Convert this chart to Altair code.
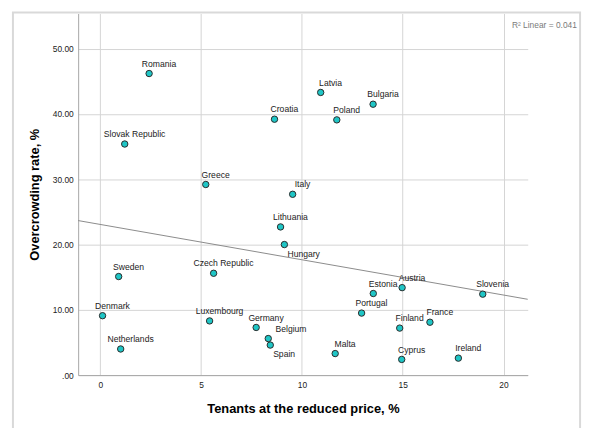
import altair as alt
import pandas as pd

countries = ["Romania", "Slovak Republic", "Croatia", "Greece", "Italy", "Latvia",
             "Bulgaria", "Poland", "Lithuania", "Hungary", "Sweden", "Czech Republic",
             "Denmark", "Netherlands", "Luxembourg", "Germany", "Belgium", "Spain",
             "Estonia", "Austria", "Slovenia", "Portugal", "Finland", "France",
             "Malta", "Cyprus", "Ireland"]
tenants = [2.42, 1.21, 8.64, 5.23, 9.54, 10.93, 13.53, 11.73, 8.94, 9.13, 0.91, 5.62,
           0.11, 1.01, 5.42, 7.73, 8.33, 8.43, 13.54, 14.97, 18.97, 12.96, 14.85, 16.35,
           11.65, 14.95, 17.76]
overcrowding = [46.2, 35.4, 39.2, 29.2, 27.7, 43.3, 41.5, 39.1, 22.7, 20.0, 15.1, 15.6,
                9.1, 4.0, 8.3, 7.3, 5.6, 4.6, 12.5, 13.4, 12.4, 9.5, 7.2, 8.1,
                3.3, 2.4, 2.6]
y_ticks = [0, 10, 20, 30, 40, 50]
x_ticks = [0, 5, 10, 15, 20]
r2_text = "R\u00b2 Linear = 0.041"

df = pd.DataFrame({"country": countries, "x": tenants, "y": overcrowding})

FONT = "Liberation Sans"
W, H = 455, 366

xs = alt.Scale(domain=[-1.1, 21.2], nice=False, zero=False)
ys = alt.Scale(domain=[0, 55.4], nice=False, zero=False)

base = alt.Chart(df)

x_enc = alt.X("x:Q", scale=xs, title="Tenants at the reduced price, %",
              axis=alt.Axis(values=x_ticks, grid=True, gridColor="#d4d4d4",
                            domainColor="#a6a6a6", ticks=False, tickSize=0,
                            labelFont=FONT, labelFontSize=8.5, labelColor="#222222",
                            labelPadding=6, titleFont=FONT, titleFontSize=13,
                            titleFontWeight="bold", titleColor="#000000",
                            titlePadding=13, format="d"))
y_enc = alt.Y("y:Q", scale=ys, title="Overcrowding rate, %",
              axis=alt.Axis(values=y_ticks, grid=True, gridColor="#d4d4d4",
                            domainColor="#a6a6a6", ticks=False, tickSize=0,
                            labelFont=FONT, labelFontSize=8.5, labelColor="#222222",
                            labelPadding=5, titleFont=FONT, titleFontSize=13,
                            titleFontWeight="bold", titleColor="#000000",
                            titlePadding=11,
                            labelExpr="datum.value == 0 ? '.00' : format(datum.value, '.2f')"))

frame = alt.Chart(pd.DataFrame({"a": [0]})).mark_rect(
    fill=None, stroke="#d9d9d9", strokeWidth=2, clip=False
).encode(x=alt.value(-66), x2=alt.value(508), y=alt.value(-1), y2=alt.value(425))

reg = base.transform_regression("x", "y", extent=[-1.1, 21.2]).mark_line(
    color="#8a8a8a", strokeWidth=1
).encode(x=alt.X("x:Q", scale=xs), y=alt.Y("y:Q", scale=ys))

pts = base.mark_point(
    filled=True, fill="#1fc6c6", stroke="#2b2b2b", strokeWidth=1, size=42, opacity=1, shape="circle"
).encode(x=x_enc, y=y_enc)

special = ["Hungary", "Belgium", "Spain"]
lab_common = dict(font=FONT, fontSize=8.7, color="#222222", align="center", baseline="middle")

labels = base.transform_filter(
    alt.FieldOneOfPredicate(field="country", oneOf=special).__invert__() if False else
    "indexof(['Hungary','Belgium','Spain'], datum.country) < 0"
).mark_text(dx=10, dy=-10, **lab_common).encode(
    x=alt.X("x:Q", scale=xs), y=alt.Y("y:Q", scale=ys), text="country:N")

lab_hu = base.transform_filter("datum.country == 'Hungary'").mark_text(
    dx=19.5, dy=10, **lab_common).encode(
    x=alt.X("x:Q", scale=xs), y=alt.Y("y:Q", scale=ys), text="country:N")
lab_be = base.transform_filter("datum.country == 'Belgium'").mark_text(
    dx=23, dy=-10, **lab_common).encode(
    x=alt.X("x:Q", scale=xs), y=alt.Y("y:Q", scale=ys), text="country:N")
lab_es = base.transform_filter("datum.country == 'Spain'").mark_text(
    dx=14, dy=9.5, **lab_common).encode(
    x=alt.X("x:Q", scale=xs), y=alt.Y("y:Q", scale=ys), text="country:N")

r2 = alt.Chart(pd.DataFrame({"t": [r2_text]})).mark_text(
    font=FONT, fontSize=8.5, color="#7a7a7a", align="left", baseline="middle"
).encode(x=alt.value(439), y=alt.value(12), text="t:N")

chart = alt.layer(frame, reg, pts, labels, lab_hu, lab_be, lab_es, r2).properties(
    width=W, height=H,
    autosize=alt.AutoSizeParams(type="none"),
    padding={"left": 71, "top": 3, "right": 60, "bottom": 51},
).configure_view(stroke=None)

chart.save("out.html", embed_options={"renderer": "svg", "actions": False})
